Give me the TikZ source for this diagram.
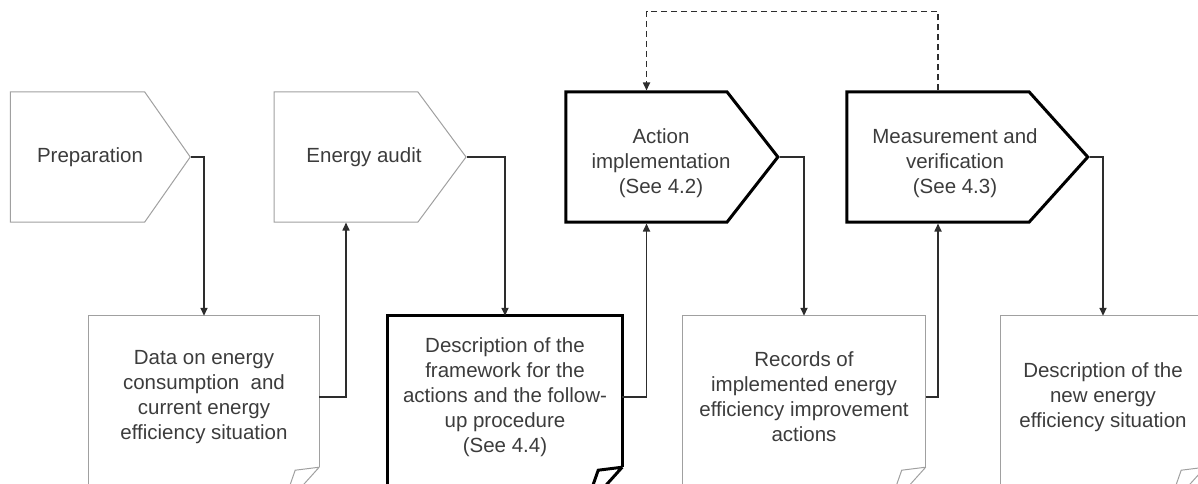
\documentclass[tikz,border=0pt]{standalone}
\usepackage{fontspec}
\setmainfont{Liberation Sans}
\usetikzlibrary{positioning,arrows.meta,shapes.symbols,calc}
\definecolor{textgray}{RGB}{60,60,60}
\definecolor{boxgray}{RGB}{160,160,160}
\definecolor{linegray}{RGB}{45,45,45}

\begin{document}
\begin{tikzpicture}[x=1pt, y=-1pt, >={Triangle[length=8pt, width=7pt]},
  every node/.style={font=\fontsize{20.5}{25}\selectfont, text=textgray, align=center},
  stage/.style={signal, signal to=east, signal from=nowhere, minimum height=130pt,
    inner sep=0pt, draw=boxgray, line width=1pt},
  keystage/.style={stage, draw=black, line width=3pt},
  record/.style={minimum height=162pt, inner sep=0pt},
  docline/.style={draw=boxgray, line width=1pt},
  keydocline/.style={draw=black, line width=3pt, line join=miter},
  flow/.style={->, draw=linegray, line width=1.6pt},
  feedback/.style={flow, dash pattern=on 6pt off 4pt}]

\useasboundingbox (0,0) rectangle (1198,484);
\clip (0,0) rectangle (1198,484);

% ---------------- Stages ----------------
\node[stage, minimum width=180pt, signal pointer angle=110] (prep) at (77.5,157) {};
\node[stage, minimum width=192pt, signal pointer angle=107] (audit) at (346,157) {};
\node[keystage, minimum width=212pt, signal pointer angle=104] (action) at (646.5,157) {};
\node[keystage, minimum width=241pt, signal pointer angle=96] (meas) at (938,157) {};

\node (preptext) at (90,157) {Preparation};
\node (audittext) at (364,157) {Energy audit};
\node (actiontext) at (661,163) {Action\\implementation\\(See 4.2)};
\node (meastext) at (955,163) {Measurement and\\verification\\(See 4.3)};

% ---------------- Documents ----------------
\node[record, minimum width=230pt] (data) at (204,397)
  {Data on energy\\consumption~ and\\current energy\\efficiency situation};
\node[record, minimum width=234pt] (frame) at (505,397)
  {Description of the\\framework for the\\actions and the follow-\\up procedure\\(See 4.4)};
\node[record, minimum width=243pt] (records) at (804,397)
  {Records of\\implemented energy\\efficiency improvement\\actions};
\node[record, minimum width=204pt] (newsit) at (1103,397)
  {Description of the\\new energy\\efficiency situation};

% outlines with folded corner
\foreach \doc/\sty in {data/docline, frame/keydocline, records/docline, newsit/docline} {
  \draw[\sty] ([yshift=11pt]\doc.south east) -- (\doc.north east) -- (\doc.north west) -- ++(0,200);
  \draw[\sty] ([yshift=11pt]\doc.south east) -- ++(-24,3) -- ++(-7,20)
    ([yshift=11pt]\doc.south east) -- ++(-18,20);
}

% ---------------- Flow ----------------
\draw[flow] (prep.east) -| (data.north);
\draw[flow] (data.east) -| (audit.south);
\draw[flow] (audit.east) -| (frame.north);
\draw[flow] (frame.east) -| (action.south);
\draw[flow] (action.east) -| (records.north);
\draw[flow] (records.east) -| (meas.south);
\draw[flow] (meas.east) -| (newsit.north);

% feedback loop
\draw[feedback] (meas.north) -- ++(0,-79) -| (action.north);

\end{tikzpicture}
\end{document}
